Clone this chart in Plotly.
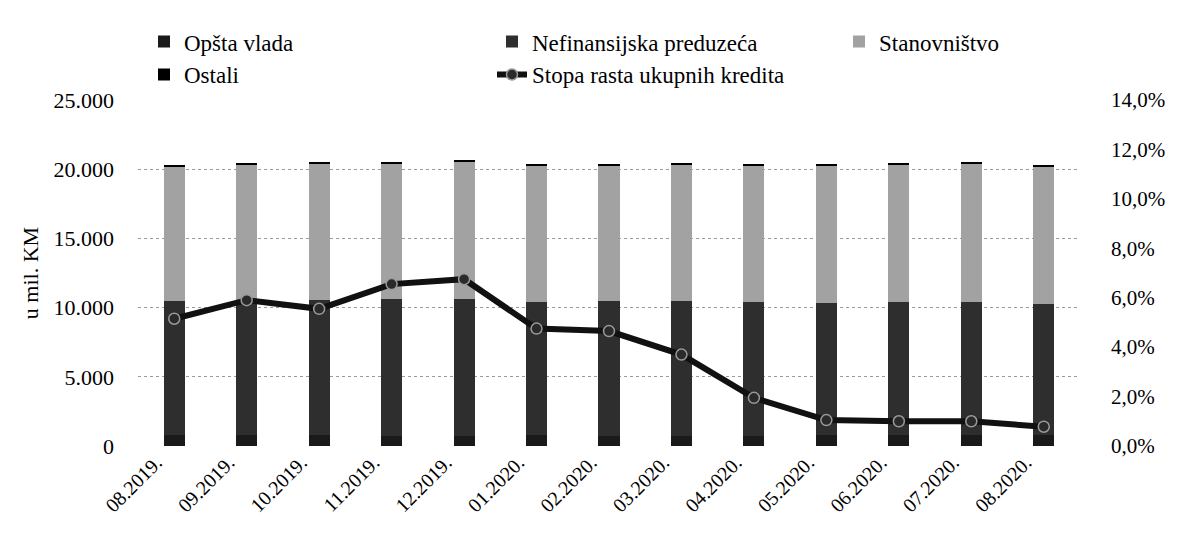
import plotly.graph_objects as go

months = ["08.2019.", "09.2019.", "10.2019.", "11.2019.", "12.2019.", "01.2020.", "02.2020.",
          "03.2020.", "04.2020.", "05.2020.", "06.2020.", "07.2020.", "08.2020."]
opsta_vlada = [780, 770, 760, 750, 740, 760, 750, 740, 740, 760, 770, 780, 770]
nefinansijska = [9700, 9800, 9800, 9850, 9900, 9650, 9700, 9750, 9650, 9600, 9650, 9650, 9500]
stanovnistvo = [9670, 9730, 9790, 9800, 9860, 9790, 9800, 9810, 9810, 9840, 9880, 9920, 9880]
ostali = [150, 150, 150, 150, 150, 150, 150, 150, 150, 150, 150, 150, 150]
stopa_rasta = [5.15, 5.9, 5.55, 6.55, 6.75, 4.75, 4.65, 3.7, 1.95, 1.05, 1.0, 1.0, 0.78]

left_ticks = [0, 5000, 10000, 15000, 20000, 25000]
left_ticktext = ["0", "5.000", "10.000", "15.000", "20.000", "25.000"]
right_ticks = [0, 2, 4, 6, 8, 10, 12, 14]
right_ticktext = ["0,0%", "2,0%", "4,0%", "6,0%", "8,0%", "10,0%", "12,0%", "14,0%"]

FONT = "Liberation Serif"
W, H = 1178, 544

fig = go.Figure()
fig.add_trace(go.Bar(x=months, y=opsta_vlada, name="Opšta vlada", legend="legend",
                     marker=dict(color="#1a1a1a", line=dict(width=0))))
fig.add_trace(go.Bar(x=months, y=nefinansijska, name="Nefinansijska preduzeća", legend="legend2",
                     marker=dict(color="#2e2e2e", line=dict(width=0))))
fig.add_trace(go.Bar(x=months, y=stanovnistvo, name="Stanovništvo", legend="legend3",
                     marker=dict(color="#a2a2a2", line=dict(width=0))))
fig.add_trace(go.Bar(x=months, y=ostali, name="Ostali", legend="legend",
                     marker=dict(color="#000000", line=dict(width=0))))
fig.add_trace(go.Scatter(x=months, y=stopa_rasta, name="Stopa rasta ukupnih kredita",
                         legend="legend2", yaxis="y2", mode="lines+markers",
                         line=dict(color="#111111", width=6),
                         marker=dict(symbol="circle", size=11, color="#2a2a2a",
                                     line=dict(color="#9a9a9a", width=1.5))))

plot_left, plot_w, plot_top, plot_h = 130, 942, 87, 351


def lx(px):
    return (px - plot_left) / plot_w


leg_common = dict(orientation="v", y=1 + (plot_top - 6) / plot_h, yanchor="top",
                  xanchor="left",
                  font=dict(family=FONT, size=23, color="#000000"),
                  bgcolor="rgba(0,0,0,0)", traceorder="normal", tracegroupgap=0,
                  itemwidth=30)

fig.update_layout(
    width=W, height=H,
    barmode="stack", bargap=0.71,
    paper_bgcolor="white", plot_bgcolor="white",
    margin=dict(l=plot_left, r=W - plot_left - plot_w, t=plot_top, b=H - plot_top - plot_h),
    font=dict(family=FONT, size=21, color="#000000"),
    showlegend=True,
    legend=dict(x=lx(136), **leg_common),
    legend2=dict(x=lx(484), **leg_common),
    legend3=dict(x=lx(831), **leg_common),
    xaxis=dict(type="category", range=[-0.5, len(months) - 0.5], tickangle=-45,
               showgrid=False, showline=False,
               ticks="", automargin=False, ticklabelshift=-18,
               tickfont=dict(family=FONT, size=20)),
    yaxis=dict(range=[0, 25000], tickvals=left_ticks, ticktext=left_ticktext,
               showgrid=True, gridcolor="#9a9a9a", griddash="dot",
               gridwidth=1, zeroline=False, showline=False, automargin=False,
               ticklabelstandoff=23,
               title=dict(text="u mil. KM", font=dict(family=FONT, size=22), standoff=8),
               tickfont=dict(family=FONT, size=22)),
    yaxis2=dict(range=[0, 14], tickvals=right_ticks, ticktext=right_ticktext,
                overlaying="y", side="right", showgrid=False, automargin=False,
                zeroline=False, showline=False, ticklabelstandoff=30,
                tickfont=dict(family=FONT, size=21)),
)

fig.write_html("out.html")
